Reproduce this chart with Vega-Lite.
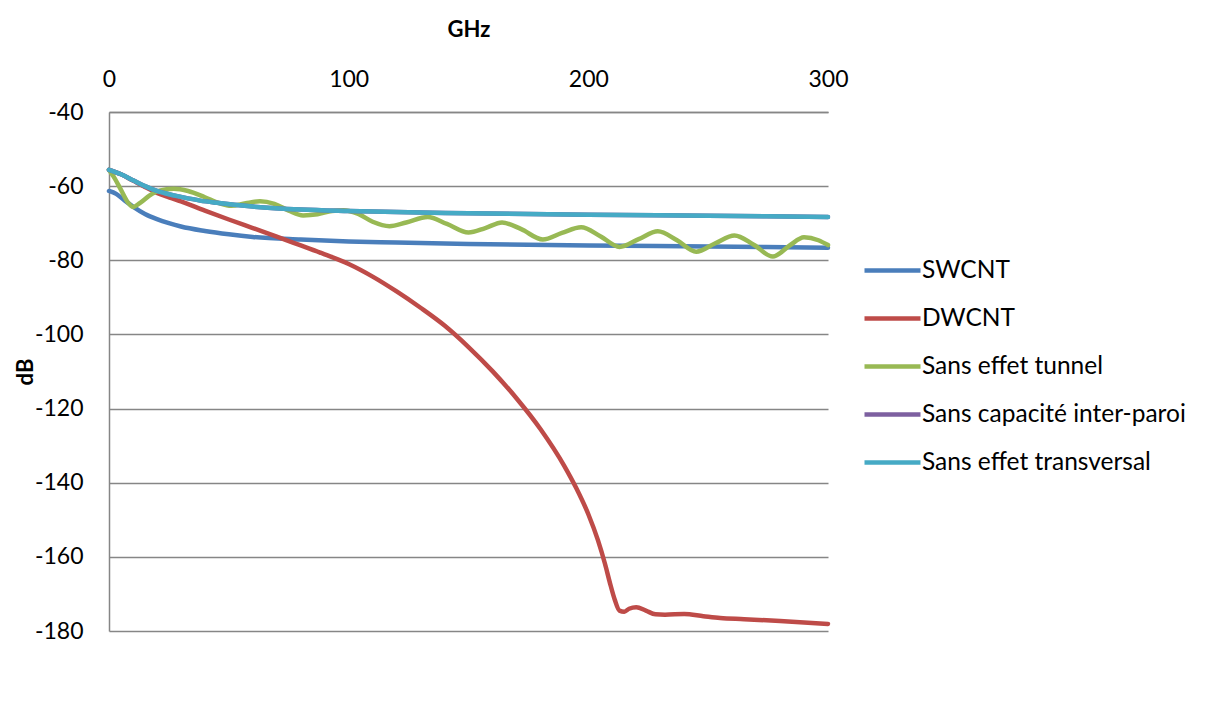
{
  "$schema": "https://vega.github.io/schema/vega-lite/v6.json",
  "width": 719,
  "height": 519,
  "autosize": {"type": "none"},
  "padding": {"left": 109, "top": 112, "right": 385, "bottom": 87},
  "background": "white",
  "config": {
    "view": {"stroke": null},
    "font": "Lato",
    "axis": {"labelFont": "Lato", "titleFont": "Lato", "labelColor": "#000000", "titleColor": "#000000"}
  },
  "data": {"values": [
    {"s":"SWCNT","x":0,"y":-61.3},{"s":"SWCNT","x":3,"y":-62.1},{"s":"SWCNT","x":6,"y":-63.6},{"s":"SWCNT","x":10,"y":-65.5},{"s":"SWCNT","x":15,"y":-67.5},{"s":"SWCNT","x":20,"y":-68.9},{"s":"SWCNT","x":25,"y":-70},{"s":"SWCNT","x":30,"y":-70.9},{"s":"SWCNT","x":40,"y":-72.1},{"s":"SWCNT","x":50,"y":-73},{"s":"SWCNT","x":60,"y":-73.7},{"s":"SWCNT","x":80,"y":-74.4},{"s":"SWCNT","x":100,"y":-74.9},{"s":"SWCNT","x":120,"y":-75.2},{"s":"SWCNT","x":150,"y":-75.6},{"s":"SWCNT","x":200,"y":-76},{"s":"SWCNT","x":250,"y":-76.3},{"s":"SWCNT","x":300,"y":-76.6},

    {"s":"DWCNT","x":0,"y":-55.6},{"s":"DWCNT","x":5,"y":-56.8},{"s":"DWCNT","x":10,"y":-58.5},{"s":"DWCNT","x":15,"y":-60.2},{"s":"DWCNT","x":20,"y":-61.8},{"s":"DWCNT","x":25,"y":-63},{"s":"DWCNT","x":30,"y":-64.1},{"s":"DWCNT","x":40,"y":-66.6},{"s":"DWCNT","x":50,"y":-69},{"s":"DWCNT","x":60,"y":-71.3},{"s":"DWCNT","x":70,"y":-73.6},{"s":"DWCNT","x":80,"y":-76},{"s":"DWCNT","x":90,"y":-78.4},{"s":"DWCNT","x":100,"y":-81},{"s":"DWCNT","x":110,"y":-84.4},{"s":"DWCNT","x":120,"y":-88.4},{"s":"DWCNT","x":130,"y":-92.8},{"s":"DWCNT","x":140,"y":-97.6},{"s":"DWCNT","x":150,"y":-103.4},{"s":"DWCNT","x":160,"y":-109.9},{"s":"DWCNT","x":170,"y":-117.2},{"s":"DWCNT","x":180,"y":-125.5},{"s":"DWCNT","x":190,"y":-135.5},{"s":"DWCNT","x":195,"y":-141.5},{"s":"DWCNT","x":200,"y":-148.5},{"s":"DWCNT","x":204,"y":-155.5},{"s":"DWCNT","x":207,"y":-162},{"s":"DWCNT","x":209,"y":-167},{"s":"DWCNT","x":211,"y":-171.5},{"s":"DWCNT","x":213,"y":-174.5},{"s":"DWCNT","x":215,"y":-174.8},{"s":"DWCNT","x":217,"y":-174},{"s":"DWCNT","x":220,"y":-173.6},{"s":"DWCNT","x":224,"y":-174.5},{"s":"DWCNT","x":228,"y":-175.5},{"s":"DWCNT","x":232,"y":-175.6},{"s":"DWCNT","x":240,"y":-175.4},{"s":"DWCNT","x":248,"y":-176},{"s":"DWCNT","x":255,"y":-176.5},{"s":"DWCNT","x":265,"y":-176.8},{"s":"DWCNT","x":280,"y":-177.3},{"s":"DWCNT","x":300,"y":-178.1},

    {"s":"Sans effet tunnel","x":0,"y":-55.6},{"s":"Sans effet tunnel","x":2,"y":-57.5},{"s":"Sans effet tunnel","x":5,"y":-61},{"s":"Sans effet tunnel","x":8,"y":-64.5},{"s":"Sans effet tunnel","x":10,"y":-65.6},{"s":"Sans effet tunnel","x":13,"y":-64.5},{"s":"Sans effet tunnel","x":17,"y":-62.5},{"s":"Sans effet tunnel","x":21,"y":-61.2},{"s":"Sans effet tunnel","x":27,"y":-60.7},{"s":"Sans effet tunnel","x":33,"y":-61.3},{"s":"Sans effet tunnel","x":40,"y":-63},{"s":"Sans effet tunnel","x":46,"y":-64.6},{"s":"Sans effet tunnel","x":51,"y":-65.3},{"s":"Sans effet tunnel","x":57,"y":-64.6},{"s":"Sans effet tunnel","x":63,"y":-64.1},{"s":"Sans effet tunnel","x":69,"y":-64.8},{"s":"Sans effet tunnel","x":75,"y":-66.6},{"s":"Sans effet tunnel","x":81,"y":-67.9},{"s":"Sans effet tunnel","x":87,"y":-67.6},{"s":"Sans effet tunnel","x":93,"y":-66.7},{"s":"Sans effet tunnel","x":98,"y":-66.5},{"s":"Sans effet tunnel","x":104,"y":-67.5},{"s":"Sans effet tunnel","x":110,"y":-69.6},{"s":"Sans effet tunnel","x":117,"y":-70.8},{"s":"Sans effet tunnel","x":124,"y":-69.8},{"s":"Sans effet tunnel","x":133,"y":-68.3},{"s":"Sans effet tunnel","x":141,"y":-70.2},{"s":"Sans effet tunnel","x":150,"y":-72.5},{"s":"Sans effet tunnel","x":157,"y":-71.3},{"s":"Sans effet tunnel","x":164,"y":-69.8},{"s":"Sans effet tunnel","x":172,"y":-71.6},{"s":"Sans effet tunnel","x":181,"y":-74.4},{"s":"Sans effet tunnel","x":189,"y":-72.6},{"s":"Sans effet tunnel","x":197,"y":-71.1},{"s":"Sans effet tunnel","x":205,"y":-73.5},{"s":"Sans effet tunnel","x":213,"y":-76.4},{"s":"Sans effet tunnel","x":221,"y":-74.3},{"s":"Sans effet tunnel","x":229,"y":-72.2},{"s":"Sans effet tunnel","x":237,"y":-74.6},{"s":"Sans effet tunnel","x":245,"y":-77.7},{"s":"Sans effet tunnel","x":253,"y":-75.4},{"s":"Sans effet tunnel","x":261,"y":-73.3},{"s":"Sans effet tunnel","x":269,"y":-75.8},{"s":"Sans effet tunnel","x":277,"y":-79},{"s":"Sans effet tunnel","x":284,"y":-76},{"s":"Sans effet tunnel","x":290,"y":-73.8},{"s":"Sans effet tunnel","x":296,"y":-74.6},{"s":"Sans effet tunnel","x":300,"y":-75.9},

    {"s":"Sans capacité inter-paroi","x":0,"y":-55.6},{"s":"Sans capacité inter-paroi","x":5,"y":-56.8},{"s":"Sans capacité inter-paroi","x":10,"y":-58.4},{"s":"Sans capacité inter-paroi","x":15,"y":-60},{"s":"Sans capacité inter-paroi","x":20,"y":-61.3},{"s":"Sans capacité inter-paroi","x":25,"y":-62.2},{"s":"Sans capacité inter-paroi","x":30,"y":-62.9},{"s":"Sans capacité inter-paroi","x":38,"y":-63.9},{"s":"Sans capacité inter-paroi","x":45,"y":-64.5},{"s":"Sans capacité inter-paroi","x":60,"y":-65.5},{"s":"Sans capacité inter-paroi","x":80,"y":-66.3},{"s":"Sans capacité inter-paroi","x":100,"y":-66.7},{"s":"Sans capacité inter-paroi","x":120,"y":-67},{"s":"Sans capacité inter-paroi","x":150,"y":-67.3},{"s":"Sans capacité inter-paroi","x":200,"y":-67.7},{"s":"Sans capacité inter-paroi","x":250,"y":-68},{"s":"Sans capacité inter-paroi","x":300,"y":-68.3},

    {"s":"Sans effet transversal","x":0,"y":-55.6},{"s":"Sans effet transversal","x":5,"y":-56.8},{"s":"Sans effet transversal","x":10,"y":-58.4},{"s":"Sans effet transversal","x":15,"y":-60},{"s":"Sans effet transversal","x":20,"y":-61.3},{"s":"Sans effet transversal","x":25,"y":-62.2},{"s":"Sans effet transversal","x":30,"y":-62.9},{"s":"Sans effet transversal","x":38,"y":-63.9},{"s":"Sans effet transversal","x":45,"y":-64.5},{"s":"Sans effet transversal","x":60,"y":-65.5},{"s":"Sans effet transversal","x":80,"y":-66.3},{"s":"Sans effet transversal","x":100,"y":-66.7},{"s":"Sans effet transversal","x":120,"y":-67},{"s":"Sans effet transversal","x":150,"y":-67.3},{"s":"Sans effet transversal","x":200,"y":-67.7},{"s":"Sans effet transversal","x":250,"y":-68},{"s":"Sans effet transversal","x":300,"y":-68.3}
  ]},
  "mark": {"type": "line", "strokeWidth": 4.5, "interpolate": "monotone", "strokeCap": "round", "strokeJoin": "round"},
  "encoding": {
    "x": {
      "field": "x", "type": "quantitative",
      "scale": {"domain": [0, 300], "nice": false, "zero": false},
      "axis": {
        "orient": "top", "title": "GHz", "values": [0, 100, 200, 300],
        "grid": false, "ticks": false, "domain": true, "domainColor": "#868686", "domainWidth": 1.5,
        "labelFontSize": 23, "labelPadding": 21, "labelFlush": false,
        "titleFontSize": 22, "titleFontWeight": "bold", "titlePadding": 27
      }
    },
    "y": {
      "field": "y", "type": "quantitative",
      "scale": {"domain": [-180, -40], "nice": false, "zero": false},
      "axis": {
        "title": "dB", "values": [-180, -160, -140, -120, -100, -80, -60, -40],
        "labelExpr": "'' + datum.value",
        "grid": true, "gridColor": "#868686", "gridWidth": 1.5,
        "ticks": false, "domain": true, "domainColor": "#868686", "domainWidth": 1.5,
        "labelFontSize": 23, "labelPadding": 26,
        "titleFontSize": 22, "titleFontWeight": "bold", "titlePadding": -3
      }
    },
    "color": {
      "field": "s", "type": "nominal",
      "scale": {
        "domain": ["SWCNT", "DWCNT", "Sans effet tunnel", "Sans capacité inter-paroi", "Sans effet transversal"],
        "range": ["#4a7ebb", "#be4b48", "#98b954", "#7d60a0", "#46aac5"]
      },
      "legend": {
        "orient": "none", "legendX": 767, "legendY": 142, "title": null,
        "symbolType": "M-2,0H2", "symbolSize": 784, "symbolStrokeWidth": 4.5,
        "labelFont": "Lato", "labelFontSize": 24.5, "labelColor": "#000000", "labelOffset": 13,
        "rowPadding": 20, "padding": 0, "labelLimit": 400
      }
    }
  }
}
